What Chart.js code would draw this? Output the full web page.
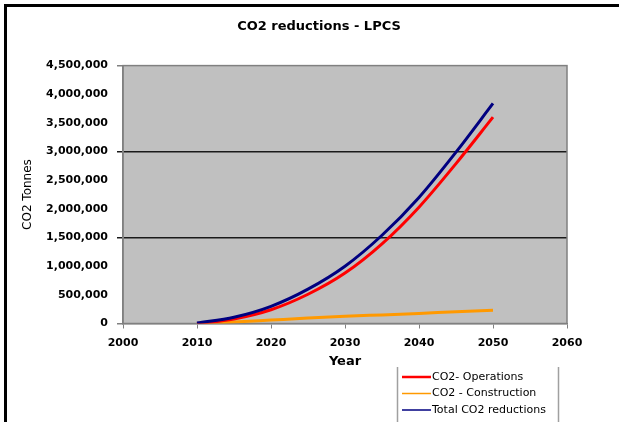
<!DOCTYPE html>
<html>
<head>
<meta charset="utf-8">
<title>CO2 reductions - LPCS</title>
<script src="https://cdn.jsdelivr.net/npm/chart.js@4.4.1/dist/chart.umd.min.js"></script>
<style>
    html, body { margin: 0; padding: 0; background: #fff; }
</style>
</head>
<body>
<canvas id="myChart" width="619" height="422"></canvas>
<script>
// values
const years = [2010, 2015, 2020, 2025, 2030, 2035, 2040, 2045, 2050];
const operations = [0, 80000, 240000, 510000, 880000, 1390000, 2030000, 2790000, 3600000];
const construction = [0, 25000, 60000, 95000, 125000, 150000, 175000, 205000, 230000];
const totalReductions = [10000, 110000, 300000, 600000, 1000000, 1540000, 2200000, 2990000, 3840000];

const seriesLabels = ['CO2- Operations', 'CO2 - Construction', 'Total CO2 reductions'];
const seriesColors = ['#FF0000', '#FF9900', '#000080'];

function toPoints(values) {
    return years.map((yr, i) => ({ x: yr, y: values[i] }));
}

const fontFamily = '"DejaVu Sans", Arial, sans-serif';

// outer frame and grey plot background
const framePlugin = {
    id: 'framePlugin',
    beforeDraw(chart) {
        const c = chart.ctx;
        const a = chart.chartArea;
        c.save();
        c.fillStyle = '#ffffff';
        c.fillRect(0, 0, chart.width, chart.height);
        c.fillStyle = '#000000';
        c.fillRect(4, 4, 3, chart.height - 4);
        c.fillRect(4, 4, chart.width - 4, 3);
        c.fillStyle = '#C0C0C0';
        c.fillRect(a.left, a.top, a.right - a.left, a.bottom - a.top);
        c.restore();
    },
    beforeDatasetsDraw(chart) {
        const c = chart.ctx;
        const a = chart.chartArea;
        c.save();
        c.strokeStyle = '#808080';
        c.lineWidth = 1.5;
        c.strokeRect(a.left, a.top, a.right - a.left, a.bottom - a.top);
        c.restore();
    }
};

// legend box below the plot, on the right
const legendPlugin = {
    id: 'legendPlugin',
    afterDraw(chart) {
        const c = chart.ctx;
        const left = 397.5, right = 558.5, top = 367;
        c.save();
        c.strokeStyle = '#A0A0A0';
        c.lineWidth = 1.5;
        c.beginPath();
        c.moveTo(left, top); c.lineTo(left, chart.height);
        c.moveTo(right, top); c.lineTo(right, chart.height);
        c.stroke();
        c.font = '11px ' + fontFamily;
        c.textBaseline = 'middle';
        c.fillStyle = '#000000';
        const widths = [2.5, 1.5, 1.5];
        chart.data.datasets.forEach((ds, i) => {
            const y = 377 + i * 16.5;
            c.strokeStyle = ds.borderColor;
            c.lineWidth = widths[i];
            c.beginPath();
            c.moveTo(402, y); c.lineTo(431, y);
            c.stroke();
            c.fillText(ds.label, 432, y);
        });
        c.restore();
    }
};

document.addEventListener("DOMContentLoaded", function() {
    const ctx = document.getElementById('myChart').getContext('2d');

    const myChart = new Chart(ctx, {
        type: 'line',
        data: {
            datasets: [{
                label: seriesLabels[0],
                data: toPoints(operations),
                borderColor: seriesColors[0],
                borderWidth: 3,
                order: 1
            }, {
                label: seriesLabels[1],
                data: toPoints(construction),
                borderColor: seriesColors[1],
                borderWidth: 3,
                order: 2
            }, {
                label: seriesLabels[2],
                data: toPoints(totalReductions),
                borderColor: seriesColors[2],
                borderWidth: 3,
                order: 0
            }]
        },
        options: {
            responsive: false,
            devicePixelRatio: 1,
            animation: false,
            layout: { padding: { left: 19, right: 0, top: 0, bottom: 0 } },
            elements: {
                point: { radius: 0 },
                line: { cubicInterpolationMode: 'monotone', fill: false }
            },
            plugins: {
                legend: { display: false },
                tooltip: { enabled: false },
                title: {
                    display: true,
                    text: 'CO2 reductions - LPCS',
                    color: '#000',
                    font: { family: fontFamily, size: 13, weight: 'bold' },
                    padding: { top: 19, bottom: 31 }
                }
            },
            scales: {
                x: {
                    type: 'linear',
                    min: 2000,
                    max: 2060,
                    afterFit(scale) {
                        scale.height = 98.5;
                        scale.paddingRight = 52;
                    },
                    ticks: {
                        stepSize: 10,
                        color: '#000',
                        padding: 8,
                        maxRotation: 0,
                        font: { family: fontFamily, size: 11, weight: 'bold' },
                        callback: (v) => String(v)
                    },
                    grid: {
                        drawOnChartArea: false,
                        drawTicks: true,
                        tickLength: 5,
                        tickColor: '#808080'
                    },
                    border: { color: '#808080', width: 1.5 },
                    title: {
                        display: true,
                        text: 'Year',
                        color: '#000',
                        font: { family: fontFamily, size: 13, weight: 'bold' },
                        padding: { top: 0, bottom: 53 }
                    }
                },
                y: {
                    min: 0,
                    max: 4500000,
                    afterFit(scale) {
                        scale.width = 104;
                    },
                    ticks: {
                        stepSize: 500000,
                        color: '#000',
                        padding: 9,
                        font: { family: fontFamily, size: 11, weight: 'bold' },
                        callback: (v) => v.toLocaleString('en-US')
                    },
                    grid: {
                        color: (c) => (c.tick && (c.tick.value === 1500000 || c.tick.value === 3000000)) ? '#1a1a1a' : 'rgba(0,0,0,0)',
                        lineWidth: 1.5,
                        tickLength: 6,
                        tickColor: (c) => {
                            if (!c.tick) return 'rgba(0,0,0,0)';
                            const v = c.tick.value;
                            if (v === 1500000 || v === 3000000) return '#1a1a1a';
                            if (v === 0 || v === 4500000) return '#808080';
                            return 'rgba(0,0,0,0)';
                        }
                    },
                    border: { color: '#808080', width: 1.5 },
                    title: {
                        display: true,
                        text: 'CO2 Tonnes',
                        color: '#000',
                        font: { family: fontFamily, size: 12 },
                        padding: { top: 2, bottom: 0 }
                    }
                }
            }
        },
        plugins: [framePlugin, legendPlugin]
    });
});
</script>
</body>
</html>
